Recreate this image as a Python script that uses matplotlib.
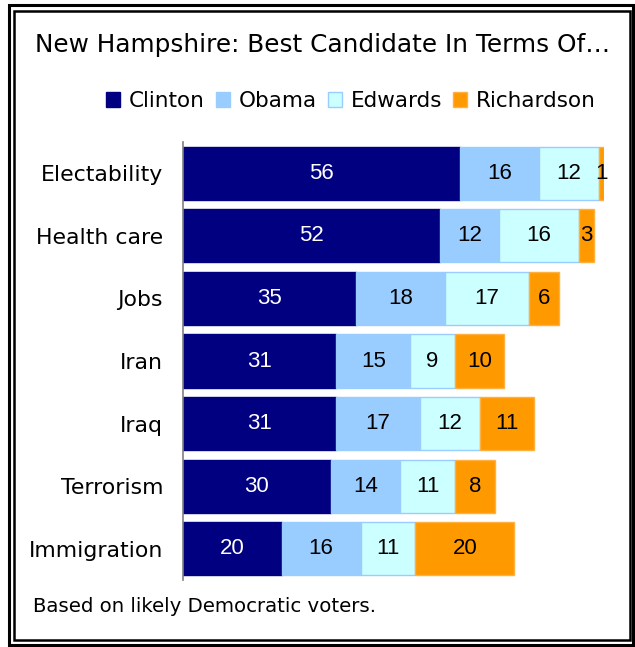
import matplotlib.pyplot as plt
from matplotlib.patches import Rectangle

# Survey results, percent of likely Democratic voters
issues = ['Electability', 'Health care', 'Jobs', 'Iran', 'Iraq', 'Terrorism', 'Immigration']
candidates = ['Clinton', 'Obama', 'Edwards', 'Richardson']
clinton = [56, 52, 35, 31, 31, 30, 20]
obama = [16, 12, 18, 15, 17, 14, 16]
edwards = [12, 16, 17, 9, 12, 11, 11]
richardson = [1, 3, 6, 10, 11, 8, 20]

colors = ['#000080', '#99ccff', '#ccffff', '#ff9900']
edges = ['#000080', '#99ccff', '#99ccff', '#ffb040']
text_colors = ['white', 'black', 'black', 'black']

plt.rcParams['font.family'] = ['DejaVu Sans']
num_font = ['Liberation Sans', 'DejaVu Sans']

W, H = 635, 647
fig = plt.figure(figsize=(W / 100, H / 100), dpi=100)

# axes box in pixel terms: left 182.5, right 603.5, top 142, bottom 580
ax = fig.add_axes([182.5 / W, 1 - 580 / H, 421 / W, 438 / H])

series = [clinton, obama, edwards, richardson]
ypos = list(range(len(issues)))
left = [0] * len(issues)
for name, vals, c, ec, tc in zip(candidates, series, colors, edges, text_colors):
    bars = ax.barh(ypos, vals, left=left, height=0.85, color=c, edgecolor=ec,
                   linewidth=1, label=name)
    for b, v in zip(bars, vals):
        ax.text(b.get_x() + b.get_width() / 2, b.get_y() + b.get_height() / 2,
                str(v), ha='center', va='center', color=tc, fontsize=16,
                family=num_font)
    left = [l + v for l, v in zip(left, vals)]

ax.set_xlim(0, 85)
ax.set_ylim(6.5, -0.5)
ax.set_yticks(ypos)
ax.set_yticklabels(issues, fontsize=15.8)
ax.tick_params(axis='y', length=0, pad=14)
ax.set_xticks([])
for s in ['top', 'right', 'bottom']:
    ax.spines[s].set_visible(False)
ax.spines['left'].set_color('#808080')
ax.spines['left'].set_linewidth(1.2)

# title, legend and note
fig.text(35 / W, 1 - 45 / H, 'New Hampshire: Best Candidate In Terms Of…',
         fontsize=17.8, ha='left', va='center')
fig.legend(loc='center left', bbox_to_anchor=(106 / W, 1 - 101 / H), ncol=4,
           frameon=False, fontsize=15.5, handlelength=0.65, handleheight=0.65,
           handletextpad=0.42, columnspacing=0.5, borderpad=0, borderaxespad=0)
fig.text(33 / W, 1 - 606 / H, 'Based on likely Democratic voters.',
         fontsize=14.2, ha='left', va='center')

# double border around the whole chart
fig.patches.append(Rectangle((9 / W, 1 - 645 / H), 624 / W, 640 / H,
                             transform=fig.transFigure, fill=False,
                             edgecolor='black', linewidth=2.2))
fig.patches.append(Rectangle((13.5 / W, 1 - 640 / H), 616 / W, 629.5 / H,
                             transform=fig.transFigure, fill=False,
                             edgecolor='black', linewidth=1.8))

fig.savefig('out.png', dpi=100)
